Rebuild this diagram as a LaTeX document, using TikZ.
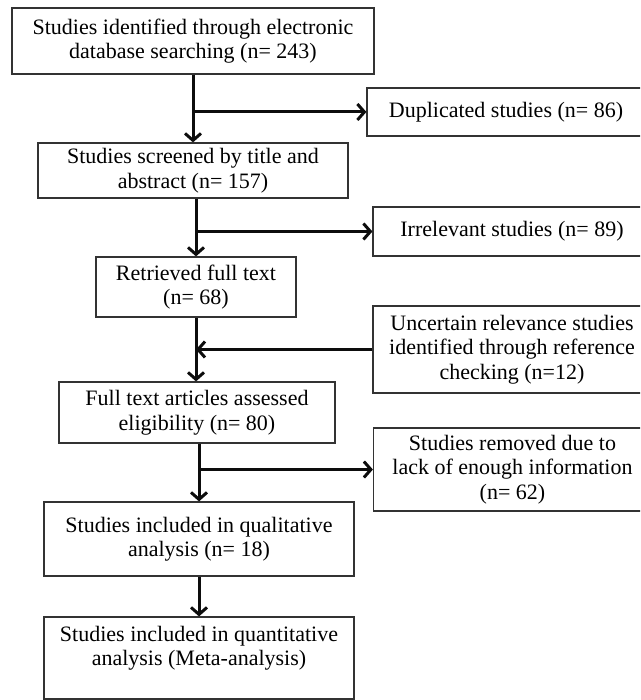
\documentclass[tikz,border=0pt]{standalone}
\usepackage{fontspec}
\setmainfont{Liberation Serif}
\usepackage{tikz}
\usetikzlibrary{arrows.meta}
\definecolor{boxline}{gray}{0.2}
\definecolor{flowline}{gray}{0.05}
\tikzset{
  box/.style={draw=boxline,line width=1.2pt,fill=white,align=center,inner sep=2pt,font=\fontsize{22}{24.5}\selectfont},
  side/.style={box,minimum width=278pt},
  arr/.style={draw=flowline,line width=3pt,-{Straight Barb[length=7pt,width=16pt]}},
}

\begin{document}
\begin{tikzpicture}[x=1pt,y=1pt]
  \useasboundingbox (0,0) rectangle (640,-700);
  \clip (0,0) rectangle (640,-700);
  \node[box,minimum width=362pt,minimum height=66pt] (ident) at (193,-41) {Studies identified through electronic\\database searching (n= 243)};
  \node[side,minimum height=48pt] (dupl) at (506,-112) {Duplicated studies (n= 86)};
  \node[box,minimum width=310pt,minimum height=55pt] (screen) at (193,-170.5) {Studies screened by title and\\abstract (n= 157)};
  \node[side,minimum height=49pt] (irrel) at (512,-231.5) {Irrelevant studies (n= 89)};
  \node[box,minimum width=200pt,minimum height=60pt] (retr) at (196,-287) {Retrieved full text\\(n= 68)};
  \node[side,minimum height=87pt] (uncert) at (512,-349.5) {Uncertain relevance studies\\identified through reference\\checking (n=12)};
  \node[box,minimum width=276pt,minimum height=61pt] (elig) at (197,-412.5) {Full text articles assessed\\eligibility (n= 80)};
  \node[side,minimum height=83pt] (remov) at (512.5,-469.5) {Studies removed due to\\lack of enough information\\(n= 62)};
  \node[box,minimum width=310pt,minimum height=74pt] (qual) at (199,-539) {Studies included in qualitative\\analysis (n= 18)};
  \node[box,minimum width=310pt,minimum height=82pt] (quant) at (199,-658) {Studies included in quantitative\\analysis (Meta-analysis)\\~};
  \draw[arr] (ident) -- (screen);
  \draw[arr] (ident.south |- dupl.west) -- (dupl.west);
  \draw[arr] (screen.south -| retr.north) -- (retr.north);
  \draw[arr] (retr.north |- irrel.west) -- (irrel.west);
  \draw[arr] (retr.south) -- (retr.south |- elig.north);
  \draw[arr] (uncert.west) -- (uncert.west -| retr.south);
  \draw[arr] (elig.south -| qual.north) -- (qual.north);
  \draw[arr] (qual.north |- remov.west) -- (remov.west);
  \draw[arr] (qual) -- (quant);
\end{tikzpicture}
\end{document}
